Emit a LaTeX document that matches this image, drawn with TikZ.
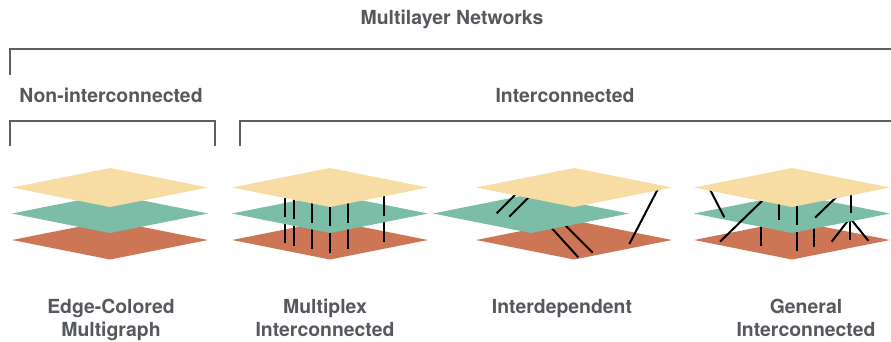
\documentclass[tikz,border=0pt]{standalone}
\usepackage{fontspec}
\setmainfont{TeX Gyre Heros}
\usetikzlibrary{shadows.blur}

\definecolor{layerY}{HTML}{F7DCA3}
\definecolor{layerG}{HTML}{7BBDA6}
\definecolor{layerO}{HTML}{CC7656}
\definecolor{txtgray}{HTML}{55585C}
\definecolor{brgray}{HTML}{5B5E63}

\begin{document}
\begin{tikzpicture}[x=1pt,y=-1pt,
  heading/.style={font=\fontsize{19.4}{23}\selectfont\bfseries, text=txtgray, inner sep=0pt},
  bracket/.style={draw=brgray, line width=2.5pt},
  edgeline/.style={draw=black, line width=2pt},
  sheet/.style={blur shadow={shadow xshift=0pt, shadow yshift=-2pt,
      shadow blur radius=2.5pt, shadow blur steps=8, shadow opacity=60}},
  netlayer/.pic={\path[pic actions] (-98,0) -- (0,-19.5) -- (98,0) -- (0,19.5) -- cycle;}
]
\useasboundingbox (0,0) rectangle (891,341);

% ---- headings and brackets ----
\node[heading, anchor=base] (all)    at (452,24)    {Multilayer Networks};
\node[heading, anchor=base] (nonint) at (111,102.5) {Non-interconnected};
\node[heading, anchor=base] (inter)  at (565,102.5) {Interconnected};

\draw[bracket] (10,75) -- (10,49) -- (893,49);
\draw[bracket] (10,146) -- (10,121) -- (215,121) -- (215,146);
\draw[bracket] (240,146) -- (240,121) -- (893,121);

% ---- edge-colored multigraph ----
\pic[fill=layerO, sheet] at (110,240)   {netlayer};
\pic[fill=layerG, sheet] at (110,213.5) {netlayer};
\pic[fill=layerY, sheet] at (110,187.5) {netlayer};

% ---- multiplex ----
\pic[fill=layerO, sheet] at (330,240) {netlayer};
\foreach \dx/\dy [count=\i] in {-45/3,-36/5.5,-18/9,0/12.5,18/9,54/2} {
  \coordinate (mx-m\i) at (330+\dx,213.5+\dy);
  \coordinate (mx-b\i) at (330+\dx,240+\dy);
  \draw[edgeline] (mx-m\i) -- (mx-b\i);
}
\pic[fill=layerG, sheet] at (330,213.5) {netlayer};
\foreach \dx/\dy [count=\i] in {-45/3,-36/5.5,-18/9,0/12.5,18/9,54/2} {
  \coordinate (mx-t\i) at (330+\dx,187.5+\dy);
  \draw[edgeline] (mx-t\i) -- (mx-m\i);
}
\pic[fill=layerY, sheet] at (330,187.5) {netlayer};

% ---- interdependent ----
\pic[fill=layerO, sheet] at (574,240) {netlayer};
\coordinate (id-m1) at (548,224);   \coordinate (id-b1) at (578.3,257.3);
\coordinate (id-m2) at (561,221);   \coordinate (id-b2) at (592.7,252.7);
\draw[edgeline] (id-m1) -- (id-b1);
\draw[edgeline] (id-m2) -- (id-b2);
\pic[fill=layerG, sheet] at (531,213.5) {netlayer};
\coordinate (id-t1) at (518,192);   \coordinate (id-n1) at (496.7,213.3);
\coordinate (id-t2) at (531,195);   \coordinate (id-n2) at (509.3,216.7);
\coordinate (id-t3) at (658.3,188.2); \coordinate (id-b3) at (629.3,244);
\draw[edgeline] (id-t1) -- (id-n1);
\draw[edgeline] (id-t2) -- (id-n2);
\draw[edgeline] (id-t3) -- (id-b3);
\pic[fill=layerY, sheet] at (574,187.5) {netlayer};

% ---- general interconnected ----
\pic[fill=layerO, sheet] at (792,240) {netlayer};
\coordinate (gi-m1) at (760.7,220);   \coordinate (gi-b1) at (760.7,246);
\coordinate (gi-m2) at (796.7,224.2); \coordinate (gi-b2) at (796.7,250.7);
\coordinate (gi-m3) at (814.3,220.2); \coordinate (gi-b3) at (814.3,246.7);
\coordinate (gi-m4) at (850,218);
\coordinate (gi-b4) at (850,240);
\coordinate (gi-b5) at (831.7,241.7);
\coordinate (gi-b6) at (868.3,240.7);
\draw[edgeline] (gi-m1) -- (gi-b1);
\draw[edgeline] (gi-m2) -- (gi-b2);
\draw[edgeline] (gi-m3) -- (gi-b3);
\draw[edgeline] (gi-m4) -- (gi-b4);
\draw[edgeline] (gi-m4) -- (gi-b5);
\draw[edgeline] (gi-m4) -- (gi-b6);
\pic[fill=layerG, sheet] at (792,213.5) {netlayer};
\coordinate (gi-t1) at (710,189.5);   \coordinate (gi-n1) at (724.3,217.3);
\coordinate (gi-t2) at (778.7,194);   \coordinate (gi-n2) at (778.7,220);
\coordinate (gi-t3) at (796.7,199);   \coordinate (gi-n3) at (796.7,225);
\coordinate (gi-t4) at (836.5,197);   \coordinate (gi-n4) at (815,217.7);
\coordinate (gi-t5) at (850.7,187.5); \coordinate (gi-n5) at (850.7,213.3);
\coordinate (gi-t6) at (764,199);     \coordinate (gi-b7) at (720,241.7);
\foreach \k in {1,...,5} { \draw[edgeline] (gi-t\k) -- (gi-n\k); }
\draw[edgeline] (gi-t6) -- (gi-b7);
\pic[fill=layerY, sheet] at (792,187.5) {netlayer};

% ---- captions ----
\node[heading, align=center, anchor=north] (ecm) at (111,299) {Edge-Colored\\Multigraph};
\node[heading, align=center, anchor=north] (mxi) at (325,299) {Multiplex\\Interconnected};
\node[heading, align=center, anchor=north] (idp) at (562,299) {Interdependent};
\node[heading, align=center, anchor=north] (gic) at (806,299) {General\\Interconnected};
\end{tikzpicture}
\end{document}
